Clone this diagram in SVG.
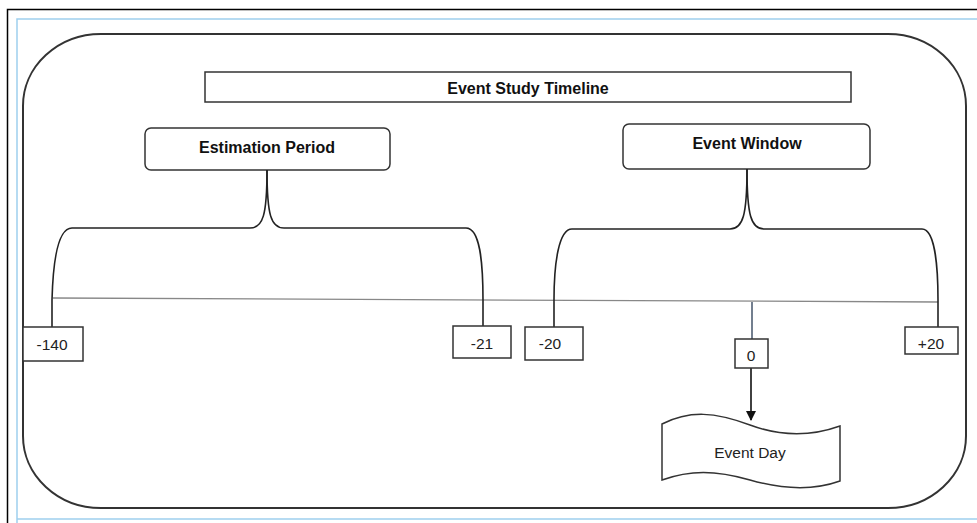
<svg xmlns="http://www.w3.org/2000/svg" width="977" height="523" viewBox="0 0 977 523">
<defs>
<style>
.frame{fill:none;stroke:#000;stroke-width:1.5}
.blue{fill:none;stroke:#9fd0ee;stroke-width:1.5}
.outer{fill:none;stroke:#333;stroke-width:2}
.box{fill:#fff;stroke:#333;stroke-width:1.5}
.brace{fill:none;stroke:#222;stroke-width:1.6}
.tl{fill:none;stroke:#888;stroke-width:1.3}
.bt{font-family:"Liberation Sans",Arial,sans-serif;font-weight:bold;font-size:16px;fill:#111;text-anchor:middle}
.nt{font-family:"Liberation Sans",Arial,sans-serif;font-size:15.5px;fill:#222;text-anchor:middle}
</style>
<marker id="ah" markerWidth="10" markerHeight="10" refX="9" refY="5" orient="auto" markerUnits="userSpaceOnUse">
<path d="M0,0 L10,5 L0,10 Z" fill="#111"/>
</marker>
</defs>
<rect width="977" height="523" fill="#fff"/>
<path class="frame" d="M7.5 523 V9.5 H977"/>
<path class="blue" d="M17 523 V19 H977 M17 519 H977"/>
<rect id="container" class="outer" x="23" y="34" width="943" height="474" rx="78" ry="72"/>

<g id="title"><rect class="box" x="205" y="72" width="646" height="30"/><text class="bt" x="528" y="93.5">Event Study Timeline</text></g>
<g id="estimation"><rect class="box" x="145" y="128" width="245" height="42" rx="6"/><text class="bt" x="267" y="153">Estimation Period</text></g>
<g id="window"><rect class="box" x="623" y="124" width="247" height="45" rx="6"/><text class="bt" x="747" y="149">Event Window</text></g>

<g id="connectors">
<path class="tl" d="M53 298 L938 302"/>
<path class="brace" d="M267 170 C267 215,263 228,250 228 L72 228 C58 228,53 262,52 300 L52 327"/>
<path class="brace" d="M267 170 C267 215,271 228,284 228 L466 228 C480 228,483 262,483 300 L483 326"/>
<path class="brace" d="M747 169 C747 215,743 229,730 229 L572 229 C559 229,554 262,554 300 L554 327"/>
<path class="brace" d="M747 169 C747 215,751 229,764 229 L922 229 C934 229,938 262,938 300 L938 327"/>
<path fill="none" stroke="#44546a" stroke-width="1.5" d="M752 302 V339"/>
<path fill="none" stroke="#111" stroke-width="1.6" d="M751 368 V420" marker-end="url(#ah)"/>
</g>

<g id="n-140"><rect class="box" x="23" y="327" width="60" height="34"/><text class="nt" x="52" y="349.5">-140</text></g>
<g id="n-21"><rect class="box" x="453" y="326" width="58" height="32"/><text class="nt" x="482" y="348.5">-21</text></g>
<g id="n-20"><rect class="box" x="525" y="327" width="58" height="33"/><text class="nt" x="550" y="349">-20</text></g>
<g id="n0"><rect class="box" x="735" y="339" width="33" height="29"/><text class="nt" x="751" y="361">0</text></g>
<g id="n20"><rect class="box" x="905" y="327" width="53" height="27"/><text class="nt" x="931" y="348.5">+20</text></g>
<g id="eventday"><path class="box" d="M662 424 C690 410,715 412,750 425 C785 438,815 435,840 426 L840 481 C815 490,785 490,750 480 C715 470,690 470,662 480 Z"/><text class="nt" x="750" y="458">Event Day</text></g>
</svg>
